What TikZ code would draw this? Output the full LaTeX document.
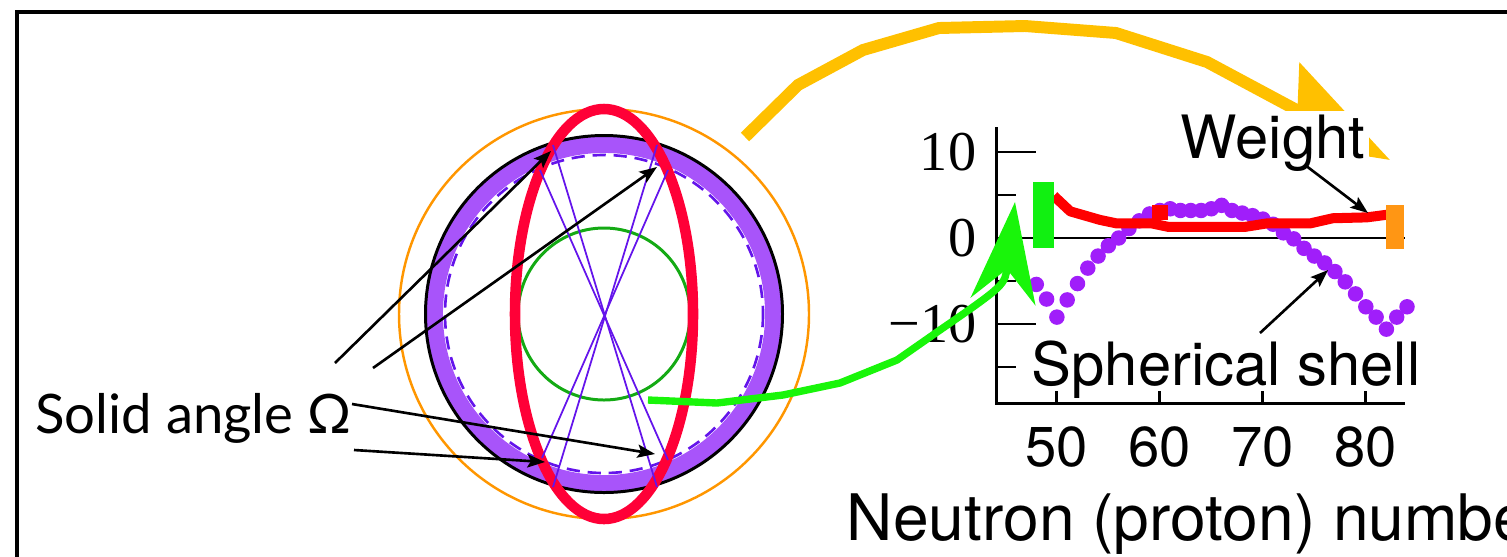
\documentclass[tikz,border=0pt]{standalone}
\usepackage{fontspec}
\setmainfont{Liberation Serif}
\newfontfamily\gillfont{Lato}
\newfontfamily\helvfont{TeX Gyre Heros}
\usetikzlibrary{positioning,arrows.meta,calc}
\definecolor{ringorange}{RGB}{255,150,0}
\definecolor{bandpurple}{RGB}{168,84,250}
\definecolor{rayviolet}{RGB}{100,20,235}
\definecolor{lensred}{RGB}{255,0,55}
\definecolor{coregreen}{RGB}{20,170,20}
\definecolor{arrowgold}{RGB}{255,192,0}
\definecolor{arrowgreen}{RGB}{25,245,10}
\definecolor{dotpurple}{RGB}{160,30,250}
\definecolor{barorange}{RGB}{255,150,20}
\definecolor{bargreen}{RGB}{17,240,17}
\tikzset{
  outerring/.style={draw=ringorange,line width=1.4pt},
  shellband/.style={draw=bandpurple,line width=9.6pt},
  shellrim/.style={draw=black,line width=1.7pt},
  shelledge/.style={draw=rayviolet,line width=1.5pt,dash pattern=on 7.5pt off 4.5pt},
  corering/.style={draw=coregreen,line width=1.7pt},
  lens/.style={draw=lensred,line width=6pt},
  ray/.style={draw=rayviolet,line width=1pt},
  callout/.style={-{Stealth[length=10pt,width=7.5pt,inset=2pt]},line width=1.5pt,black},
  axisline/.style={line width=1.6pt,black},
  bigtext/.style={font=\helvfont\fontsize{34}{40}\selectfont,inner sep=2pt},
  ticktext/.style={font=\fontsize{32}{38}\selectfont,inner sep=0pt},
}
\begin{document}
\begin{tikzpicture}[x=0.02cm,y=-0.02cm]
  \clip (0,0) rectangle (1507,556);
  % frame
  \draw[line width=2.8pt] (17,600) -- (17,12) -- (1560,12);

  % sphere picture
  \coordinate (c) at (604,314);
  \draw[outerring] (c) circle[radius=205];
  \draw[shellband] (c) circle[radius=169.5];
  \draw[shellrim] (c) circle[radius=178.5];
  \draw[shelledge] (c) circle[radius=159];
  \draw[corering] (c) circle[radius=86];
  \draw[lens] (c) ellipse[x radius=89,y radius=205];
  \coordinate (r1a) at (553,145); \coordinate (r1b) at (657,487);
  \coordinate (r2a) at (540,170); \coordinate (r2b) at (668,460);
  \coordinate (r3a) at (657,145); \coordinate (r3b) at (553,487);
  \coordinate (r4a) at (668,170); \coordinate (r4b) at (542,458);
  \foreach \i in {1,...,4}
    \draw[ray] (r\i a) -- (r\i b);

  \node[font=\gillfont\fontsize{31}{37}\selectfont,anchor=base west,inner sep=0pt]
    (omega) at (35,433) {Solid angle Ω};
  \coordinate (o1) at (335,363); \coordinate (t1) at (551,151);
  \coordinate (o2) at (373,368); \coordinate (t2) at (657,167);
  \coordinate (o3) at (352,404); \coordinate (t3) at (655,454);
  \coordinate (o4) at (354,450); \coordinate (t4) at (545,462);
  \foreach \i in {1,...,4}
    \draw[callout] (o\i) -- (t\i);

  % plot
  \begin{scope}[shift={(542,238)},x=0.206cm,y=0.172cm]
    \draw[axisline] (44.1,12.9) -- (44.1,-19.2) -- (83.8,-19.2);
    \draw[axisline] (44.1,0) -- (83.8,0);
    \foreach \v in {10,-10}
      \draw[axisline] (44.1,\v) -- ++(0.8cm,0);
    \foreach \v in {5,-5,-15}
      \draw[axisline] (44.1,\v) -- ++(0.4cm,0);
    \foreach \n in {50,60,70,80}{
      \draw[axisline] (\n,-19.2) -- ++(0,0.25cm);
      \node[ticktext,font=\helvfont\fontsize{32}{38}\selectfont,anchor=base]
        (xt\n) at (\n,-26.6) {\n};
    }
    \node[ticktext,anchor=east] (yt10) at (42.2,10) {10};
    \node[ticktext,anchor=east] (yt0) at (42.2,0) {0};
    \node[ticktext,anchor=east] (ytm10) at (42.2,-10) {−10};

    % shell energy
    \foreach \n/\v in {48/-5.4,49/-7.1,50/-9.2,51/-7.2,52/-5.3,53/-3.5,54/-2.1,
        55/-0.9,56/0,57/1.1,58/2.0,59/2.8,60/3.2,61/3.4,62/3.2,63/3.2,64/3.2,
        65/3.4,66/3.8,67/3.2,68/2.9,69/2.6,70/2.2,71/1.6,72/0.6,73/-0.1,
        74/-1.2,75/-2.1,76/-2.9,77/-3.9,78/-5.1,79/-6.5,80/-8.0,81/-9.2,
        82/-10.6,83/-9.2,84/-8.0}
      \fill[dotpurple] (\n,\v) circle[radius=0.155cm];
    % weight
    \draw[red,line width=5.7pt,line join=round]
      (49.7,4.9) -- (51.3,3.1) -- (54.2,2.1) -- (55.8,1.7) -- (59.2,1.7)
      -- (60.8,1.3) -- (68.3,1.3) -- (70.4,1.7) -- (74.6,1.7) -- (76.8,2.3)
      -- (80.1,2.4) -- (82.0,2.7);
    \fill[red] (59.2,2.1) rectangle (60.8,3.8);
    \fill[bargreen] (47.7,-1.2) rectangle (49.7,6.5);
    \fill[barorange] (82.0,-1.3) rectangle (83.7,3.8);
  \end{scope}

  % arrow to the weight curve
  \draw[arrowgold,line width=6.8pt,
        -{Stealth[length=2.5cm,width=1.7cm,inset=0.4cm]}]
    (745,137) -- (798,85) -- (863,50) -- (939,28) -- (1025,26)
    -- (1116,33) -- (1207,62) -- (1390,160);
  \node[bigtext,fill=white,anchor=base west] (weight) at (1177,158) {Weight};
  \node[bigtext,anchor=base west] (shell) at (1028,385) {Spherical shell};
  \node[bigtext,font=\helvfont\fontsize{36.5}{44}\selectfont,anchor=base west]
    (nlabel) at (843,540) {Neutron (proton) number};
  \coordinate (w1) at (1305,165); \coordinate (w2) at (1368,213);
  \coordinate (s1) at (1260,333); \coordinate (s2) at (1328,270);
  \draw[callout] (w1) -- (w2);
  \draw[callout] (s1) -- (s2);

  % arrow to the shell curve
  \draw[arrowgreen,line width=4.2pt,
        -{Stealth[length=2cm,width=1.3cm,inset=0.65cm]}]
    (648,400) -- (717,403) -- (783,395) -- (840,383) -- (897,360)
    -- (940,330) .. controls (1005,285) .. (1015,202);
\end{tikzpicture}
\end{document}
